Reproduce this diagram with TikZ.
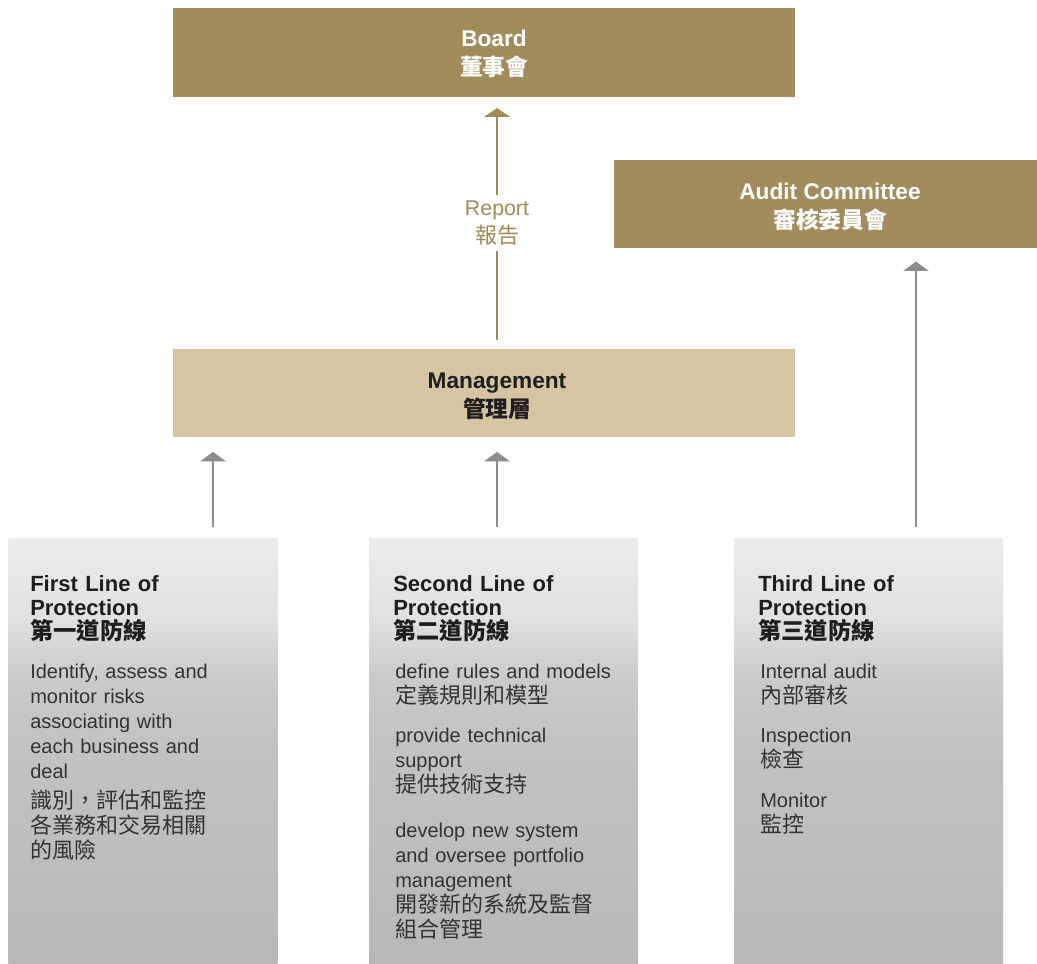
\documentclass[tikz,border=0pt]{standalone}
\usepackage{fontspec}
\setmainfont{Liberation Sans}
\newfontfamily\zh{Noto Sans CJK TC}
\usetikzlibrary{arrows.meta,calc}

\definecolor{boardgold}{HTML}{A38C5C}
\definecolor{mgmtsand}{HTML}{D5C5A1}
\definecolor{reportgold}{HTML}{A08A55}
\definecolor{arrowgrey}{HTML}{8C8C8C}
\definecolor{coltop}{HTML}{ECECEC}
\definecolor{colfog}{HTML}{E2E2E2}
\definecolor{colmid}{HTML}{CACACA}
\definecolor{collow}{HTML}{C2C2C2}
\definecolor{colbot}{HTML}{B8B8B8}
\definecolor{titleink}{HTML}{1E1E1E}
\definecolor{bodyink}{HTML}{333333}

\pgfdeclareverticalshading{colshade}{100bp}{color(0bp)=(colbot); color(25bp)=(colbot);
  color(50bp)=(collow); color(58.5bp)=(colmid); color(66bp)=(colfog); color(75bp)=(coltop);
  color(100bp)=(coltop)}

\newcommand\zhbox[1]{{\zh\bfseries\fontsize{17}{21.5}\selectfont #1}}
\newcommand\zhtitle[1]{{\zh\bfseries\fontsize{17.5}{18}\selectfont #1}}
\newcommand\zhbody[1]{{\zh\fontsize{16.5}{18.75}\selectfont #1}}

\tikzset{
  box/.style={rectangle, inner sep=0pt, minimum width=466.5pt, minimum height=66.5pt},
  boxlabel/.style={align=center, inner sep=0pt, font=\bfseries\fontsize{17}{21.5}\selectfont},
  column/.style={rectangle, inner sep=0pt, minimum width=202pt, minimum height=318.75pt,
    shading=colshade},
  coltitle/.style={anchor=base west, align=left, inner sep=0pt, text width=190pt,
    text=titleink, font=\bfseries\fontsize{16.5}{18}\selectfont},
  colbody/.style={anchor=base west, align=left, inner sep=0pt, text width=190pt,
    text=bodyink, font=\fontsize{15}{18.75}\selectfont},
  greyarr/.style={draw=arrowgrey, line width=1.2pt, -{Triangle[width=19pt,length=7pt]}},
  goldarr/.style={draw=reportgold, line width=1.2pt, -{Triangle[width=19pt,length=6.5pt]}},
  reportlbl/.style={fill=white, align=center, inner xsep=2pt, inner ysep=4.5pt,
    text=reportgold, font=\fontsize{16}{21}\selectfont}
}

\begin{document}
\begin{tikzpicture}[x=0.75pt, y=-0.75pt]
  \useasboundingbox (0,0) rectangle (1037,963);

  % top boxes
  \node[box, fill=boardgold] (board) at (484,52.5) {};
  \node[box, fill=boardgold, minimum width=317.25pt, minimum height=66pt] (audit) at (825.5,204) {};
  \node[box, fill=mgmtsand, minimum height=66pt] (mgmt) at (484,393) {};
  \node[boxlabel, text=white] (boardlbl) at (494,54) {Board\\\zhbox{董事會}};
  \node[boxlabel, text=white] (auditlbl) at (830,207) {Audit Committee\\\zhbox{審核委員會}};
  \node[boxlabel, text=titleink] (mgmtlbl) at (497,396) {Management\\\zhbox{管理層}};

  % three lines of protection
  \node[column] (col1) at (143,750.5) {};
  \node[column, minimum width=201.75pt] (col2) at (503.5,750.5) {};
  \node[column, minimum width=201.75pt] (col3) at (868.5,750.5) {};

  \node[coltitle] (title1) at (30,591) {First Line of\\Protection\\\zhtitle{第一道防線}};
  \node[colbody] (first1) at (30,678) {Identify, assess and\\monitor risks\\associating with\\each business and\\deal};
  \node[colbody] (first2) at (30,808) {\zhbody{識別，評估和監控}\\\zhbody{各業務和交易相關}\\\zhbody{的風險}};

  \node[coltitle] (title2) at (393,591) {Second Line of\\Protection\\\zhtitle{第二道防線}};
  \node[colbody] (second1) at (395,678) {define rules and models\\\zhbody{定義規則和模型}};
  \node[colbody] (second2) at (395,742) {provide technical\\support\\\zhbody{提供技術支持}};
  \node[colbody] (second3) at (395,837) {develop new system\\and oversee portfolio\\management\\\zhbody{開發新的系統及監督}\\\zhbody{組合管理}};

  \node[coltitle] (title3) at (758,591) {Third Line of\\Protection\\\zhtitle{第三道防線}};
  \node[colbody] (third1) at (760,678) {Internal audit\\\zhbody{內部審核}};
  \node[colbody] (third2) at (760,742) {Inspection\\\zhbody{檢查}};
  \node[colbody] (third3) at (760,807) {Monitor\\\zhbody{監控}};

  % connectors
  \coordinate (rx) at (497,0);
  \coordinate (a1) at (213,0);
  \coordinate (a2) at (497,0);
  \coordinate (a3) at (916,0);
  \draw[goldarr, shorten <=6.75pt, shorten >=8.25pt] (rx |- mgmt.north) -- node[reportlbl] (report) {Report\\\zhbody{報告}} (rx |- board.south);
  \draw[greyarr, shorten <=8.25pt, shorten >=11pt] (a1 |- col1.north) -- (a1 |- mgmt.south);
  \draw[greyarr, shorten <=8.25pt, shorten >=11pt] (a2 |- col2.north) -- (a2 |- mgmt.south);
  \draw[greyarr, shorten <=8.25pt, shorten >=10pt] (a3 |- col3.north) -- (a3 |- audit.south);
\end{tikzpicture}
\end{document}
